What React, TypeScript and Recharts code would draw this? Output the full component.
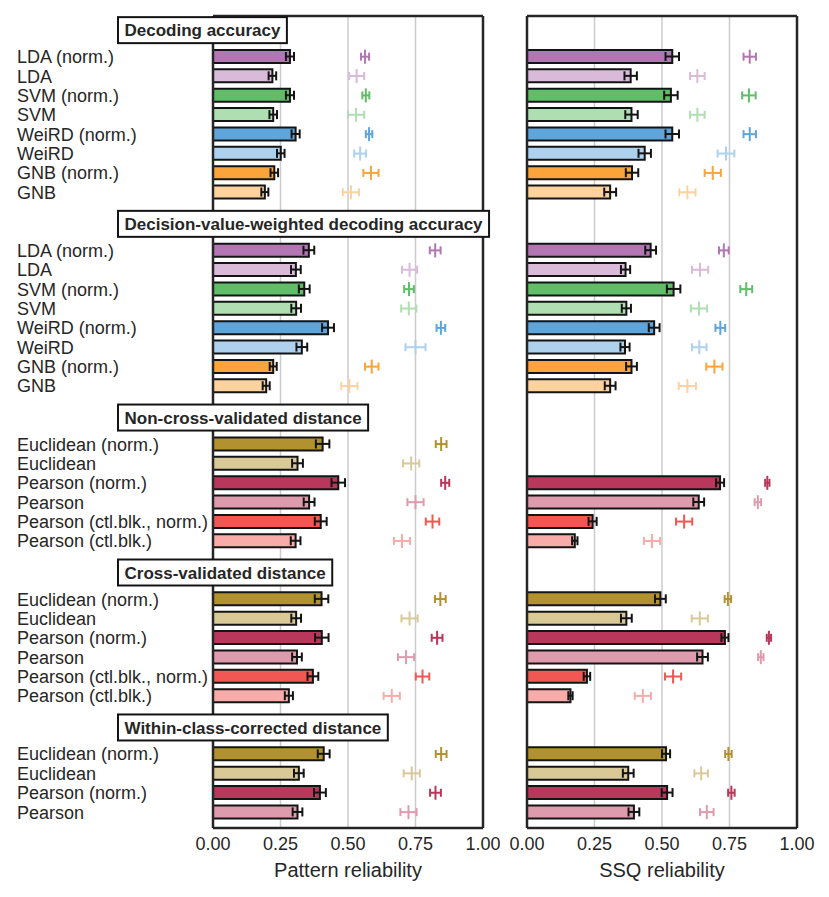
import React from 'react';
import { ComposedChart, Bar, Scatter, XAxis, YAxis, CartesianGrid, ErrorBar, Cell, ReferenceLine } from 'recharts';

const FONT = '"Liberation Sans", Arial, sans-serif';
const TEXT_COLOR = '#262626';
const EDGE = '#141414';

const SECTION_TITLES = [
  'Decoding accuracy',
  'Decision-value-weighted decoding accuracy',
  'Non-cross-validated distance',
  'Cross-validated distance',
  'Within-class-corrected distance',
];
const SECTION_STARTS = [0, 10, 20, 28, 36];
const HEADER_OFFSET = 1.37;
const Y_DOMAIN: [number, number] = [-2.1, 39.82];
const X_TICKS = [0, 0.25, 0.5, 0.75, 1];

const DECODER_LABELS = ['LDA (norm.)', 'LDA', 'SVM (norm.)', 'SVM', 'WeiRD (norm.)', 'WeiRD', 'GNB (norm.)', 'GNB'];
const DISTANCE_LABELS = ['Euclidean (norm.)', 'Euclidean', 'Pearson (norm.)', 'Pearson', 'Pearson (ctl.blk., norm.)', 'Pearson (ctl.blk.)'];
const WITHIN_LABELS = ['Euclidean (norm.)', 'Euclidean', 'Pearson (norm.)', 'Pearson'];

const DECODER_COLORS = ['#B276B2', '#D9BAD9', '#60BD68', '#B0DEB3', '#5DA5DA', '#AED2EE', '#FAA43A', '#FDD29D'];
const DISTANCE_COLORS = ['#B2912F', '#D9C997', '#B8375A', '#DE9BAE', '#F15854', '#F8ABA9'];
const WITHIN_COLORS = ['#B2912F', '#D9C997', '#B8375A', '#DE9BAE'];

// Section 1: decoding accuracy
const S1_PAT_BAR = [0.285, 0.220, 0.285, 0.223, 0.306, 0.251, 0.227, 0.192];
const S1_PAT_BAR_ERR = [0.015, 0.014, 0.015, 0.014, 0.015, 0.014, 0.014, 0.013];
const S1_PAT_PT = [0.563, 0.532, 0.566, 0.530, 0.578, 0.545, 0.585, 0.511];
const S1_PAT_PT_ERR = [0.015, 0.028, 0.013, 0.030, 0.012, 0.022, 0.028, 0.030];
const S1_SSQ_BAR = [0.538, 0.384, 0.533, 0.387, 0.538, 0.436, 0.389, 0.308];
const S1_SSQ_BAR_ERR = [0.025, 0.023, 0.025, 0.023, 0.025, 0.023, 0.023, 0.022];
const S1_SSQ_PT = [0.825, 0.631, 0.822, 0.631, 0.825, 0.737, 0.688, 0.594];
const S1_SSQ_PT_ERR = [0.023, 0.027, 0.025, 0.027, 0.023, 0.031, 0.030, 0.030];

// Section 2: decision-value-weighted decoding accuracy
const S2_PAT_BAR = [0.355, 0.307, 0.338, 0.308, 0.426, 0.329, 0.223, 0.197];
const S2_PAT_BAR_ERR = [0.02, 0.018, 0.02, 0.018, 0.022, 0.02, 0.013, 0.013];
const S2_PAT_PT = [0.823, 0.728, 0.726, 0.725, 0.844, 0.750, 0.588, 0.505];
const S2_PAT_PT_ERR = [0.02, 0.028, 0.018, 0.028, 0.016, 0.037, 0.025, 0.03];
const S2_SSQ_BAR = [0.458, 0.365, 0.543, 0.368, 0.471, 0.363, 0.387, 0.308];
const S2_SSQ_BAR_ERR = [0.02, 0.017, 0.025, 0.017, 0.02, 0.017, 0.02, 0.02];
const S2_SSQ_PT = [0.729, 0.641, 0.812, 0.637, 0.716, 0.638, 0.694, 0.594];
const S2_SSQ_PT_ERR = [0.018, 0.03, 0.022, 0.03, 0.018, 0.027, 0.03, 0.032];

// Section 3: non-cross-validated distance
const S3_PAT_BAR = [0.406, 0.313, 0.464, 0.356, 0.399, 0.306];
const S3_PAT_BAR_ERR = [0.025, 0.02, 0.025, 0.02, 0.022, 0.018];
const S3_PAT_PT = [0.845, 0.734, 0.860, 0.750, 0.813, 0.700];
const S3_PAT_PT_ERR = [0.02, 0.03, 0.015, 0.03, 0.025, 0.03];
const S3_SSQ_BAR = [null, null, 0.715, 0.636, 0.243, 0.177];
const S3_SSQ_BAR_ERR = [null, null, 0.015, 0.02, 0.015, 0.01];
const S3_SSQ_PT = [null, null, 0.890, 0.855, 0.582, 0.463];
const S3_SSQ_PT_ERR = [null, null, 0.008, 0.012, 0.03, 0.03];

// Section 4: cross-validated distance
const S4_PAT_BAR = [0.402, 0.308, 0.403, 0.311, 0.370, 0.281];
const S4_PAT_BAR_ERR = [0.025, 0.018, 0.025, 0.018, 0.02, 0.015];
const S4_PAT_PT = [0.842, 0.728, 0.830, 0.715, 0.776, 0.662];
const S4_PAT_PT_ERR = [0.02, 0.03, 0.02, 0.03, 0.025, 0.03];
const S4_SSQ_BAR = [0.494, 0.368, 0.733, 0.650, 0.222, 0.161];
const S4_SSQ_BAR_ERR = [0.02, 0.02, 0.013, 0.02, 0.012, 0.008];
const S4_SSQ_PT = [0.744, 0.640, 0.896, 0.866, 0.541, 0.429];
const S4_SSQ_PT_ERR = [0.012, 0.03, 0.008, 0.01, 0.03, 0.03];

// Section 5: within-class-corrected distance
const S5_PAT_BAR = [0.410, 0.318, 0.396, 0.313];
const S5_PAT_BAR_ERR = [0.022, 0.018, 0.022, 0.018];
const S5_PAT_PT = [0.845, 0.736, 0.824, 0.724];
const S5_PAT_PT_ERR = [0.02, 0.03, 0.02, 0.03];
const S5_SSQ_BAR = [0.515, 0.375, 0.519, 0.396];
const S5_SSQ_BAR_ERR = [0.015, 0.02, 0.02, 0.02];
const S5_SSQ_PT = [0.746, 0.645, 0.757, 0.666];
const S5_SSQ_PT_ERR = [0.012, 0.025, 0.012, 0.025];

type Metric = { bar: number | null; barErr: number | null; pt: number | null; ptErr: number | null };
type Row = { pos: number; label: string; color: string; pattern: Metric; ssq: Metric };

const SECTIONS = [
  { labels: DECODER_LABELS, colors: DECODER_COLORS, pat: [S1_PAT_BAR, S1_PAT_BAR_ERR, S1_PAT_PT, S1_PAT_PT_ERR], ssq: [S1_SSQ_BAR, S1_SSQ_BAR_ERR, S1_SSQ_PT, S1_SSQ_PT_ERR] },
  { labels: DECODER_LABELS, colors: DECODER_COLORS, pat: [S2_PAT_BAR, S2_PAT_BAR_ERR, S2_PAT_PT, S2_PAT_PT_ERR], ssq: [S2_SSQ_BAR, S2_SSQ_BAR_ERR, S2_SSQ_PT, S2_SSQ_PT_ERR] },
  { labels: DISTANCE_LABELS, colors: DISTANCE_COLORS, pat: [S3_PAT_BAR, S3_PAT_BAR_ERR, S3_PAT_PT, S3_PAT_PT_ERR], ssq: [S3_SSQ_BAR, S3_SSQ_BAR_ERR, S3_SSQ_PT, S3_SSQ_PT_ERR] },
  { labels: DISTANCE_LABELS, colors: DISTANCE_COLORS, pat: [S4_PAT_BAR, S4_PAT_BAR_ERR, S4_PAT_PT, S4_PAT_PT_ERR], ssq: [S4_SSQ_BAR, S4_SSQ_BAR_ERR, S4_SSQ_PT, S4_SSQ_PT_ERR] },
  { labels: WITHIN_LABELS, colors: WITHIN_COLORS, pat: [S5_PAT_BAR, S5_PAT_BAR_ERR, S5_PAT_PT, S5_PAT_PT_ERR], ssq: [S5_SSQ_BAR, S5_SSQ_BAR_ERR, S5_SSQ_PT, S5_SSQ_PT_ERR] },
];

const toMetric = (arrs: (number | null)[][], i: number): Metric => ({
  bar: arrs[0][i], barErr: arrs[1][i], pt: arrs[2][i], ptErr: arrs[3][i],
});

const ROWS: Row[] = SECTIONS.flatMap((s, si) =>
  s.labels.map((label, i) => ({
    pos: SECTION_STARTS[si] + i,
    label,
    color: s.colors[i],
    pattern: toMetric(s.pat as (number | null)[][], i),
    ssq: toMetric(s.ssq as (number | null)[][], i),
  }))
);

const HEADER_POS = SECTION_STARTS.map((s) => s - HEADER_OFFSET);
const Y_TICKS = [...HEADER_POS, ...ROWS.map((r) => r.pos)].sort((a, b) => a - b);
const TICK_INFO = new Map<string, { text: string; header: boolean }>();
ROWS.forEach((r) => TICK_INFO.set(r.pos.toFixed(2), { text: r.label, header: false }));
SECTION_TITLES.forEach((t, i) => TICK_INFO.set(HEADER_POS[i].toFixed(2), { text: t, header: true }));

let ctx: CanvasRenderingContext2D | null = null;
function measureBold(text: string): number {
  if (!ctx && typeof document !== 'undefined') {
    ctx = document.createElement('canvas').getContext('2d');
  }
  if (ctx) {
    ctx.font = `bold 17px ${FONT}`;
    return ctx.measureText(text).width;
  }
  return text.length * 9.3;
}

function RowTick(props: any) {
  const { y, payload } = props;
  const info = TICK_INFO.get(Number(payload.value).toFixed(2));
  if (!info) return null;
  if (info.header) {
    const w = measureBold(info.text);
    return (
      <g>
        <rect x={118} y={y - 13} width={w + 13} height={26} fill="#ffffff" stroke={EDGE} strokeWidth={2} />
        <text x={124.5} y={y} dy="0.36em" fontSize={17} fontWeight="bold" fill={TEXT_COLOR}>
          {info.text}
        </text>
      </g>
    );
  }
  return (
    <text x={17} y={y} dy="0.36em" fontSize={18} fill={TEXT_COLOR}>
      {info.text}
    </text>
  );
}

const COLOR_ORDER = Array.from(new Set(ROWS.map((r) => r.color)));

function Panel({ metric, width, yWidth, marginRight, title, showLabels }: {
  metric: 'pattern' | 'ssq'; width: number; yWidth: number; marginRight: number; title: string; showLabels: boolean;
}) {
  const barData = ROWS.filter((r) => r[metric].bar != null).map((r) => ({
    pos: r.pos, bar: r[metric].bar, barErr: r[metric].barErr, color: r.color,
  }));
  const groups = COLOR_ORDER.map((c) => ({
    color: c,
    data: ROWS.filter((r) => r.color === c && r[metric].pt != null).map((r) => ({
      pos: r.pos, pt: r[metric].pt, ptErr: r[metric].ptErr,
    })),
  })).filter((g) => g.data.length > 0);
  const spine = { stroke: TEXT_COLOR, strokeWidth: 2.5 };

  return (
    <ComposedChart
      width={width}
      height={897}
      layout="vertical"
      data={barData}
      margin={{ top: 16, right: marginRight, bottom: 9, left: 0 }}
    >
      <CartesianGrid horizontal={false} stroke="#cccccc" strokeWidth={1.5} />
      <XAxis
        type="number"
        domain={[0, 1]}
        ticks={X_TICKS}
        tickFormatter={(v: number) => v.toFixed(2)}
        tick={{ fontSize: 18, fill: TEXT_COLOR }}
        tickLine={false}
        tickSize={6}
        tickMargin={3}
        axisLine={spine}
        height={60}
        allowDataOverflow
        label={{ value: title, position: 'insideBottom', offset: 11, fontSize: 20, fill: TEXT_COLOR }}
      />
      <YAxis
        type="number"
        dataKey="pos"
        domain={Y_DOMAIN}
        allowDataOverflow
        ticks={showLabels ? Y_TICKS : []}
        interval={0}
        width={yWidth}
        tick={showLabels ? <RowTick /> : false}
        tickLine={false}
        axisLine={spine}
      />
      <ReferenceLine x={1} stroke={TEXT_COLOR} strokeWidth={2.5} />
      <ReferenceLine y={Y_DOMAIN[0]} stroke={TEXT_COLOR} strokeWidth={2.5} />
      <Bar dataKey="bar" barSize={13} stroke={EDGE} strokeWidth={2} isAnimationActive={false}>
        {barData.map((d) => (
          <Cell key={d.pos} fill={d.color} />
        ))}
        <ErrorBar dataKey="barErr" direction="x" width={4.5} strokeWidth={2} stroke={EDGE} />
      </Bar>
      {groups.map((g) => (
        <Scatter
          key={g.color}
          data={g.data}
          dataKey="pt"
          fill={g.color}
          isAnimationActive={false}
          shape={(p: any) => (
            <line x1={p.cx} x2={p.cx} y1={p.cy - 7} y2={p.cy + 7} stroke={g.color} strokeWidth={2} />
          )}
        >
          <ErrorBar dataKey="ptErr" direction="x" width={4} strokeWidth={2} stroke={g.color} />
        </Scatter>
      ))}
    </ComposedChart>
  );
}

export default function App() {
  return (
    <div style={{ position: 'absolute', left: 0, top: 0, width: 829, height: 897, background: '#ffffff', fontFamily: FONT }}>
      <div style={{ position: 'absolute', left: 0, top: 0 }}>
        <Panel metric="pattern" width={500} yWidth={213} marginRight={17} title="Pattern reliability" showLabels />
      </div>
      <div style={{ position: 'absolute', left: 500, top: 0 }}>
        <Panel metric="ssq" width={329} yWidth={27} marginRight={32} title="SSQ reliability" showLabels={false} />
      </div>
    </div>
  );
}
